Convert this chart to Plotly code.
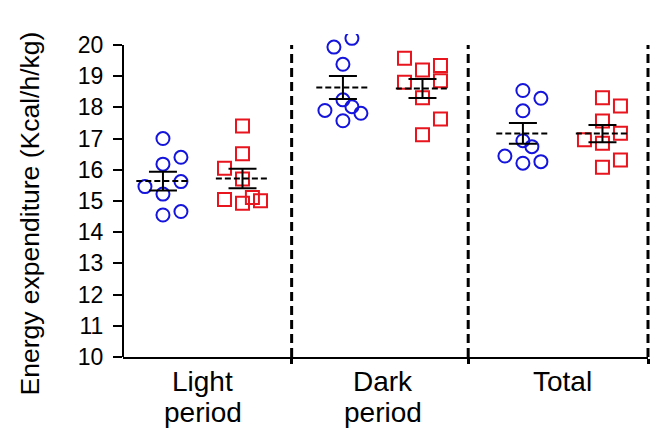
import numpy as np
import plotly.graph_objects as go

# Energy expenditure (Kcal/h/kg) per animal, two groups per period
periods = [["Light", "period"], ["Dark", "period"], ["Total"]]
group_a = [
    [17.0, 16.4, 16.18, 15.46, 15.62, 15.22, 14.55, 14.66],
    [20.21, 19.93, 19.38, 18.24, 17.90, 18.02, 17.81, 17.57],
    [18.54, 18.29, 17.89, 16.93, 16.74, 16.44, 16.21, 16.26],
]
group_b = [
    [17.40, 16.51, 16.05, 15.70, 15.05, 14.93, 15.11, 15.01],
    [19.57, 19.20, 19.34, 18.80, 18.85, 18.31, 17.63, 17.12],
    [18.31, 18.04, 17.56, 17.17, 16.96, 16.85, 16.31, 16.08],
]
y_ticks = list(range(10, 21))

# horizontal scatter lanes (in lane units) so overlapping points stay visible
lanes_a = [
    [0, 1, 0, -1, 1, 0, 0, 1],
    [0.5, -0.5, 0, 0, -1, 0.5, 1, 0],
    [0, 1, 0, 0, 0.5, -1, 0, 1],
]
lanes_b = [
    [0, 0, -1, 0, -1, 0, 0.55, 1],
    [-1, 0, 1, -1, 1, 0, 1, 0],
    [0, 1, 0, 1, -1, 0, 1, 0],
]

BLUE = "#1414DC"
RED = "#E8141E"
GROUP_SHIFT = 0.221
LANE = 0.1
MEAN_HALF = 0.148
X_RANGE = [-0.443, 2.474]
Y_RANGE = [10, 20.35]
SEPARATORS = [0.494, 1.475, 2.474]


def to_paper(x):
    return (x - X_RANGE[0]) / (X_RANGE[1] - X_RANGE[0])


fig = go.Figure()


def add_group(values, lanes, center, color, symbol):
    v = np.asarray(values, dtype=float)
    xs = center + np.asarray(lanes) * LANE
    fig.add_trace(go.Scatter(
        x=xs, y=v, mode="markers", showlegend=False,
        marker=dict(symbol=symbol, size=13, color=color,
                    line=dict(color=color, width=2)),
    ))
    mean = v.mean()
    sem = v.std(ddof=1) / np.sqrt(len(v))
    # dashed mean line
    fig.add_trace(go.Scatter(
        x=[center - MEAN_HALF, center + MEAN_HALF], y=[mean, mean],
        mode="lines", showlegend=False,
        line=dict(color="black", width=2, dash="6px,3px"),
    ))
    # SEM bar
    fig.add_trace(go.Scatter(
        x=[center], y=[mean], mode="markers", showlegend=False,
        marker=dict(size=1, color="rgba(0,0,0,0)"),
        error_y=dict(type="data", array=[sem], symmetric=True,
                     width=14, thickness=2, color="black"),
    ))


for i in range(len(periods)):
    add_group(group_a[i], lanes_a[i], i - GROUP_SHIFT, BLUE, "circle-open")
    add_group(group_b[i], lanes_b[i], i + GROUP_SHIFT, RED, "square-open")

# y axis line stops at the top tick
fig.add_shape(type="line", x0=0, x1=0, y0=y_ticks[0], y1=y_ticks[-1],
              xref="paper", yref="y", line=dict(color="black", width=2))

for s in SEPARATORS:
    fig.add_shape(type="line", x0=to_paper(s), x1=to_paper(s),
                  y0=y_ticks[0], y1=y_ticks[-1], xref="paper", yref="y",
                  line=dict(color="black", width=3, dash="9px,5px"))

# category labels, one annotation per text line
label_rows = [-0.077, -0.173]
for i, lines in enumerate(periods):
    for row, word in zip(label_rows, lines):
        fig.add_annotation(x=i, y=row, xref="x", yref="paper", text=word,
                           showarrow=False, yanchor="middle", xanchor="center",
                           font=dict(size=28, color="black", family="Arial"))

fig.add_annotation(x=-0.177, y=14.6, xref="paper", yref="y",
                   text="Energy expenditure (Kcal/h/kg)", textangle=-90,
                   showarrow=False, xanchor="center", yanchor="middle",
                   font=dict(size=26.5, color="black", family="Arial"))

fig.update_layout(
    width=654, height=433,
    margin=dict(l=123, r=6, t=34, b=76),
    plot_bgcolor="white", paper_bgcolor="white",
    font=dict(family="Arial", color="black"),
    xaxis=dict(range=X_RANGE, showline=True, linecolor="black", linewidth=2,
               showgrid=False, zeroline=False, ticks="outside",
               tickvals=SEPARATORS, ticklen=5, tickwidth=3,
               tickcolor="black", showticklabels=False),
    yaxis=dict(range=Y_RANGE, tickvals=y_ticks, showline=False,
               showgrid=False, zeroline=False, ticks="outside",
               ticklen=9, tickwidth=2, tickcolor="black",
               tickfont=dict(size=23, color="black", family="Arial"),
               ticklabelstandoff=5),
)

fig.write_html("out.html")
